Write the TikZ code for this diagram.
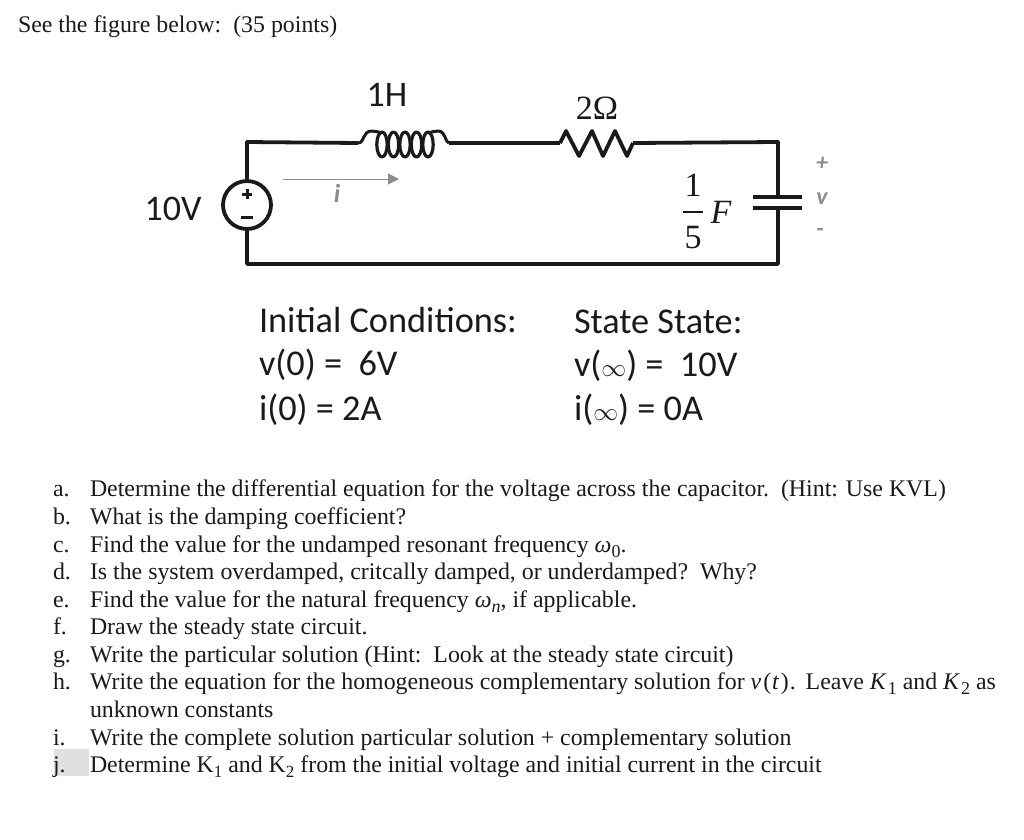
\documentclass[tikz,border=0pt]{standalone}
\usepackage{fontspec}
\setmainfont{Liberation Serif}
\newfontfamily\cali{Carlito}
\usetikzlibrary{arrows.meta}
\definecolor{hintgray}{HTML}{E0E0E0}
\definecolor{labgray}{HTML}{8C8C8C}
\definecolor{inkb}{HTML}{1A1A1A}
\tikzset{
 wire/.style={line width=3.8pt,draw=inkb,line join=round},
 txt/.style={inner sep=0pt,outer sep=0pt,anchor=base west,font=\fontsize{23.85}{27}\selectfont,text=inkb},
 cal/.style={inner sep=0pt,outer sep=0pt,anchor=base west,font=\cali\fontsize{36.3}{40}\selectfont,text=inkb},
 lab/.style={inner sep=0pt,outer sep=0pt,font=\cali\fontsize{36}{40}\selectfont,text=inkb},
 ser/.style={inner sep=0pt,outer sep=0pt,font=\fontsize{34}{38}\selectfont,text=inkb},
 gr/.style={inner sep=0pt,outer sep=0pt,text=labgray,font=\cali\bfseries\itshape\fontsize{24}{26}\selectfont}
}
\newcommand{\sbb}[1]{\raisebox{-0.22em}{\fontsize{17}{17}\selectfont #1}}
\newcommand{\msb}[1]{\raisebox{-0.22em}{\fontsize{18}{18}\selectfont #1}}
\begin{document}
\begin{tikzpicture}[x=1pt,y=-1pt]
\useasboundingbox (0,0) rectangle (1024,839);
\node[txt] (head) at (18,32) {See the figure below:\ \ (35 points)};
% circuit
\coordinate (tl) at (247,142);
\coordinate (tr) at (778,142);
\coordinate (bl) at (247,264);
\coordinate (br) at (778,264);
\node[circle,draw=inkb,line width=3.8pt,minimum size=48pt,inner sep=0pt] (src) at (247,205) {};
\coordinate (Lin) at (358,143);
\coordinate (Lout) at (449,143);
\coordinate (Rin) at (560,143);
\coordinate (Rout) at (633,143);
\coordinate (capT) at (778,197);
\coordinate (capB) at (778,208);
\draw[wire] (src.north) -- (tl) -- (Lin);
\draw[wire] (Lout) -- (Rin);
\draw[wire] (Rout) -- (tr) -- (capT);
\draw[wire] (capB) -- (br) -- (bl) -- (src.south);
\draw[wire,line width=4.6pt] (753,197) -- (capT) -- (802,197);
\draw[wire,line width=4.6pt] (753,208) -- (capB) -- (802,208);
% inductor
\draw[wire,line width=3pt] (Lin) .. controls (365,143) and (362,131) .. (372,131) .. controls (375,131) and (378,132) .. (382,133);
\draw[wire,line width=3pt] (428,133) .. controls (432,132) and (435,131) .. (438,131) .. controls (446,131) and (445,143) .. (Lout);
\foreach \cx in {382,393.5,405,416.5,428}{
  \draw[wire,line width=3.2pt] (\cx,144.5) ellipse [x radius=5.2, y radius=12.5];
}
% resistor
\draw[wire] (Rin) -- (566,131) -- (579,156) -- (592,131) -- (603,156) -- (615,131) -- (627,156) -- (Rout);
% source signs
\draw[wire,line width=3pt] (242,194) -- (252,194) (247,189) -- (247,199);
\draw[wire,line width=3pt] (241,217) -- (253,217);
% current arrow
\coordinate (ia) at (283,179);
\coordinate (ib) at (399,179);
\draw[labgray,line width=1pt,-{Triangle[length=11pt,width=11pt]}] (ia) -- (ib);
\node[gr,font=\cali\itshape\bfseries\fontsize{26}{28}\selectfont] (icur) at (337,193) {i};
% labels
\node[lab] (lH) at (387,95) {1H};
\node[ser] (lR) at (597,108) {2Ω};
\node[lab] (lV) at (173,209) {10V};
\node[ser] (frac) at (693,185) {1};
\node[ser] (frac5) at (693,238) {5};
\coordinate (fa) at (683,212);
\coordinate (fb) at (703,212);
\draw[inkb,line width=1.2pt] (fa) -- (fb);
\node[ser,font=\itshape\fontsize{34}{36}\selectfont] (lF) at (721,212) {F};
\node[gr] (vp) at (822,164) {+};
\node[gr] (vv) at (822,199) {v};
\node[gr] (vm) at (820,232) {-};
% conditions
\node[cal] (c1) at (259,332) {Initial Conditions:};
\node[cal] (c2) at (259,375) {v(0) = \ 6V};
\node[cal] (c3) at (259,420) {i(0) = 2A};
\node[cal] (s1) at (574,333) {State State:};
\node[cal] (s2) at (574,376) {v($\infty$) = \ 10V};
\node[cal] (s3) at (574,420) {i($\infty$) = 0A};
% questions
\fill[hintgray] (54,749) rectangle (89,776);
\node[txt] (la) at (53,496) {a.};
\node[txt] (ta) at (90,496) {Determine the differential equation for the voltage across the capacitor.\ \ (Hint: Use KVL)};
\node[txt] (lb) at (53,524) {b.};
\node[txt] (tb) at (90,524) {What is the damping coefficient?};
\node[txt] (lc) at (53,552) {c.};
\node[txt] (tc) at (90,552) {Find the value for the undamped resonant frequency \textit{ω}\msb{0}.};
\node[txt] (ld) at (53,579) {d.};
\node[txt] (td) at (90,579) {Is the system overdamped, critcally damped, or underdamped?\ \ Why?};
\node[txt] (le) at (53,607) {e.};
\node[txt] (te) at (90,607) {Find the value for the natural frequency \textit{ω}\msb{\textit{n}}, if applicable.};
\node[txt] (lf) at (53,634) {f.};
\node[txt] (tf) at (90,634) {Draw the steady state circuit.};
\node[txt] (lg) at (53,662) {g.};
\node[txt] (tg) at (90,662) {Write the particular solution (Hint:\ \ Look at the steady state circuit)};
\node[txt] (lh) at (53,689) {h.};
\node[txt] (th) at (90,689) {Write the equation for the homogeneous complementary solution for \textit{v}\hspace{2pt}(\hspace{1pt}\textit{t}\hspace{1.5pt})\hspace{1pt}.\hspace{2pt} Leave \textit{K}\hspace{1pt}\msb{1} and \textit{K}\hspace{1pt}\msb{2} as};
\node[txt] (th2) at (90,717) {unknown constants};
\node[txt] (li) at (53,745) {i.};
\node[txt] (ti) at (90,745) {Write the complete solution particular solution + complementary solution};
\node[txt] (lj) at (53,772) {j.};
\node[txt] (tj) at (90,772) {Determine K\sbb{1} and K\sbb{2} from the initial voltage and initial current in the circuit};
\end{tikzpicture}
\end{document}
